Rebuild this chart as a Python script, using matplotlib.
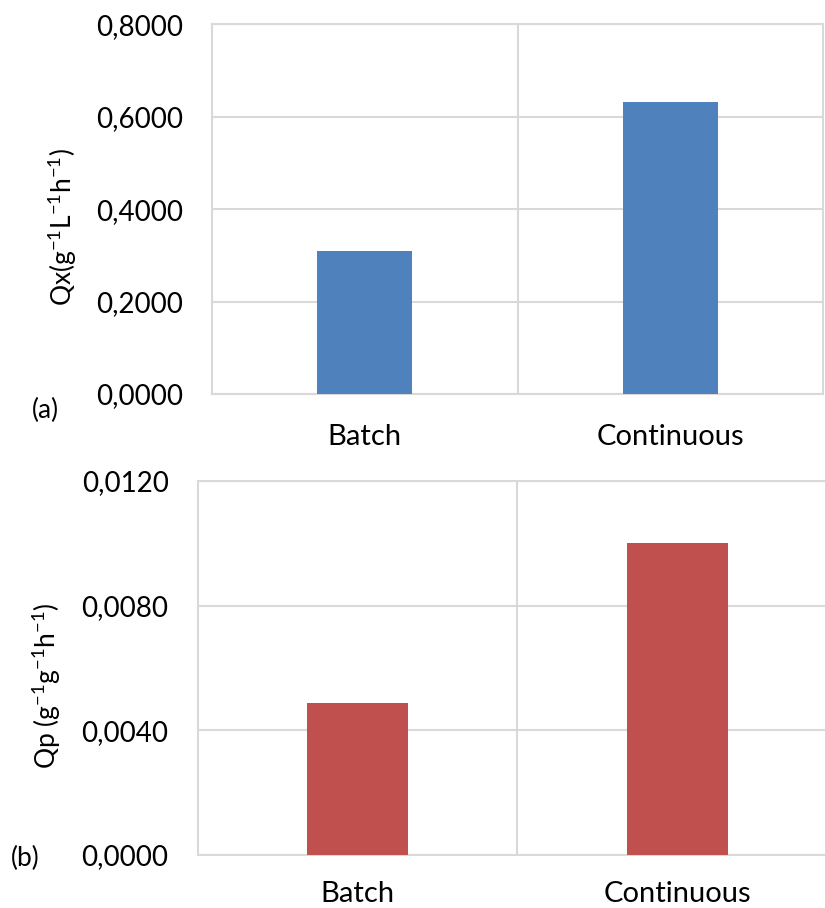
import matplotlib
matplotlib.use('Agg')
import matplotlib.pyplot as plt
from matplotlib.ticker import FuncFormatter, FixedLocator

plt.rcParams['font.family'] = ['Lato', 'DejaVu Sans']
plt.rcParams['mathtext.fontset'] = 'custom'
plt.rcParams['mathtext.rm'] = 'Lato'
plt.rcParams['mathtext.it'] = 'Lato'
plt.rcParams['mathtext.default'] = 'rm'

# data
categories = ['Batch', 'Continuous']
qx_values = [0.310, 0.6325]
qp_values = [0.00488, 0.0100]
qx_ticks = [0.0, 0.2, 0.4, 0.6, 0.8]
qp_ticks = [0.0, 0.004, 0.008, 0.012]

GRID = '#d9d9d9'
BLUE = '#4f81bd'
RED = '#c0504d'


def comma_fmt(v, pos):
    return f'{v:.4f}'.replace('.', ',')


def style_axes(ax, ticks, ylabel, tag, tag_xy, ylabel_xy, xpad):
    x = range(len(categories))
    ax.set_xlim(-0.5, len(categories) - 0.5)
    ax.set_ylim(ticks[0], ticks[-1])
    ax.set_yticks(ticks)
    ax.yaxis.set_major_formatter(FuncFormatter(comma_fmt))
    ax.set_xticks(list(x))
    ax.set_xticklabels(categories, fontsize=21)
    ax.xaxis.set_minor_locator(FixedLocator([0.5]))
    ax.grid(axis='y', which='major', color=GRID, lw=1.5)
    ax.grid(axis='x', which='minor', color=GRID, lw=1.5)
    ax.set_axisbelow(True)
    for s in ax.spines.values():
        s.set_color(GRID)
        s.set_linewidth(1.5)
    ax.tick_params(axis='both', which='both', length=0)
    ax.tick_params(axis='y', labelsize=20, pad=21)
    ax.tick_params(axis='x', pad=xpad)
    ax.set_ylabel(ylabel, fontsize=19)
    ax.yaxis.set_label_coords(*ylabel_xy)
    ax.figure.text(tag_xy[0], tag_xy[1], tag, fontsize=19, ha='center', va='center')


fig = plt.figure(figsize=(8.25, 9.08), dpi=100)

ax1 = fig.add_axes([0.257, 0.5661, 0.7406, 0.4071])
ax1.bar(range(len(categories)), qx_values, width=0.31, color=BLUE, zorder=3)
style_axes(ax1, qx_ticks, r'Qx(g$^{-1}$L$^{-1}$h$^{-1}$)', '(a)',
           (45 / 825, 1 - 410 / 908), (-0.218, 0.451), 21.5)

ax2 = fig.add_axes([0.2396, 0.0584, 0.775, 0.4119])
ax2.bar(range(len(categories)), qp_values, width=0.316, color=RED, zorder=3)
style_axes(ax2, qp_ticks, r'Qp (g$^{-1}$g$^{-1}$h$^{-1}$)', '(b)',
           (25 / 825, 1 - 858 / 908), (-0.21, 0.452), 19)

fig.savefig('out.png', dpi=100)
